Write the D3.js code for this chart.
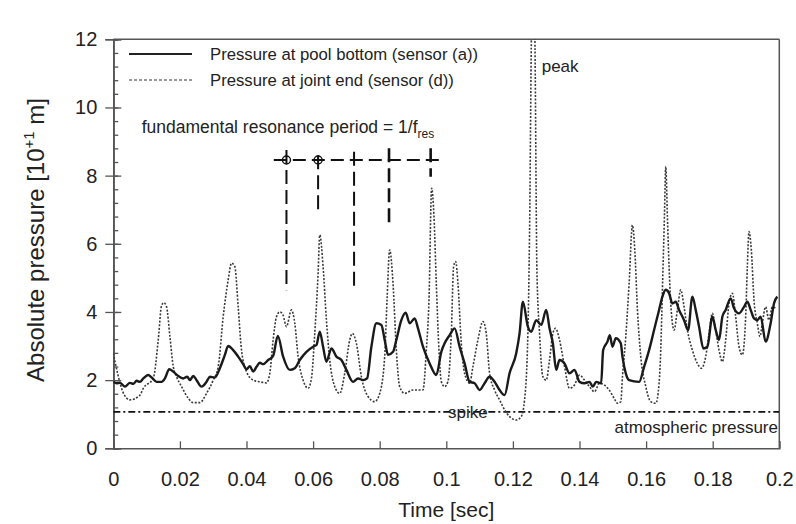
<!DOCTYPE html>
<html><head><meta charset="utf-8">
<script src="https://cdn.jsdelivr.net/npm/d3@7"></script>
<style>
html,body{margin:0;padding:0;background:#fff;}
text{font-family:"Liberation Sans",Arial,sans-serif;fill:#222;}
</style></head>
<body><svg id="chart" width="796" height="524"></svg>
<script>
// ---- data ----
const xTicks = [0,0.02,0.04,0.06,0.08,0.1,0.12,0.14,0.16,0.18,0.2];
const xTickLabels = ["0","0.02","0.04","0.06","0.08","0.1","0.12","0.14","0.16","0.18","0.2"];
const yTicks = [0,2,4,6,8,10,12];
const yMinorTicks = d3.range(0,12.01,0.4);
const atmosphericPressure = 1.07;

const timeA = [
0,0.001,0.002,0.0035,0.005,0.006,0.007,0.008,0.009,0.0105,
0.0115,0.013,0.0145,0.0155,0.0168,0.018,0.0195,0.021,0.0222,0.023,
0.024,0.025,0.0265,0.028,0.029,0.0305,0.032,0.0335,0.0345,0.036,
0.0375,0.039,0.04,0.041,0.042,0.043,0.044,0.045,0.0465,0.048,
0.0494,0.051,0.053,0.0545,0.056,0.058,0.06,0.061,0.062,0.063,
0.064,0.0655,0.067,0.0685,0.07,0.072,0.0735,0.075,0.0762,0.0775,
0.079,0.0805,0.0815,0.0825,0.084,0.085,0.0865,0.0878,0.089,0.0905,
0.0915,0.093,0.095,0.097,0.0985,0.0995,0.101,0.1025,0.104,0.1055,
0.107,0.1085,0.11,0.1115,0.113,0.1145,0.116,0.1175,0.119,0.121,
0.122,0.123,0.1245,0.1255,0.127,0.1285,0.13,0.131,0.132,0.133,
0.134,0.1355,0.137,0.1385,0.14,0.1415,0.143,0.144,0.145,0.1465,
0.1471,0.1484,0.1491,0.1499,0.1509,0.1524,0.1529,0.1539,0.1549,0.1579,
0.1594,0.1609,0.1624,0.1639,0.1649,0.1659,0.1669,0.1679,0.1689,0.1699,
0.1714,0.1726,0.1739,0.1749,0.1759,0.1772,0.1784,0.1799,0.1809,0.1819,
0.1829,0.1839,0.1854,0.1864,0.1879,0.1894,0.1904,0.1914,0.1924,0.1934,
0.1944,0.1959,0.1974,0.1984,0.1994];
const pressureA = [
1.95,1.91,1.92,1.81,1.92,1.89,1.98,1.95,2.05,2.15,
2.08,1.95,1.95,2.05,2.32,2.25,2.12,2.05,2.10,2.00,
2.12,2.00,1.81,1.95,2.10,2.08,2.35,2.74,3.00,2.88,
2.69,2.47,2.32,2.41,2.25,2.39,2.51,2.47,2.59,2.71,
3.30,2.69,2.30,2.35,2.59,2.83,2.98,3.03,3.42,2.98,
2.54,2.93,2.69,2.59,2.30,1.95,2.05,2.00,2.05,2.98,
3.67,3.62,3.18,2.74,2.83,3.18,3.76,3.98,3.67,3.81,
3.52,2.98,2.49,2.15,2.83,3.08,3.32,3.52,2.98,2.49,
1.95,1.91,1.71,1.91,2.10,1.95,1.71,1.56,2.20,2.79,
3.37,4.30,3.57,3.42,3.76,3.62,4.06,3.52,3.08,2.30,
2.59,2.49,2.20,2.30,1.95,1.91,1.95,1.81,1.95,1.91,
2.88,3.13,3.32,2.98,3.23,3.08,2.69,2.20,2.00,1.95,
2.39,2.88,3.47,4.06,4.45,4.65,4.55,4.25,4.30,4.06,
3.76,3.47,4.45,4.06,3.57,2.93,2.98,3.86,3.47,3.18,
3.86,4.06,4.40,4.11,3.96,4.15,4.30,4.06,3.81,3.76,
3.86,3.13,3.67,4.25,4.45];

const timeD = [
0,0.0014,0.0029,0.005,0.008,0.009,0.012,0.0135,0.0145,0.0152,
0.016,0.017,0.018,0.019,0.0205,0.0225,0.024,0.026,0.028,0.030,
0.0315,0.033,0.0345,0.0355,0.0365,0.0375,0.0385,0.040,0.042,0.044,
0.046,0.047,0.048,0.049,0.050,0.051,0.052,0.0535,0.0545,0.0555,
0.057,0.0585,0.0595,0.0605,0.0615,0.062,0.063,0.064,0.065,0.0665,
0.068,0.0695,0.071,0.0718,0.073,0.0745,0.0765,0.0785,0.080,0.0815,
0.0822,0.083,0.084,0.085,0.086,0.0875,0.090,0.093,0.094,0.0948,
0.0956,0.0963,0.097,0.0978,0.0985,0.0995,0.1005,0.1015,0.1022,0.1028,
0.1035,0.1045,0.1055,0.107,0.108,0.1095,0.111,0.112,0.113,0.1145,
0.116,0.1175,0.119,0.121,0.1225,0.1235,0.1245,0.125,0.1257,0.1265,
0.1272,0.128,0.129,0.130,0.131,0.132,0.1328,0.134,0.1355,0.137,
0.1385,0.140,0.1415,0.143,0.1445,0.146,0.1474,0.1489,0.1504,0.1514,
0.1524,0.1529,0.1539,0.1549,0.1559,0.1566,0.1574,0.1584,0.1599,0.1614,
0.1629,0.1639,0.1644,0.1649,0.1655,0.1659,0.1664,0.1669,0.1674,0.1684,
0.1694,0.1704,0.1714,0.1724,0.1739,0.1754,0.1766,0.1779,0.1789,0.1799,
0.1809,0.1819,0.1829,0.1839,0.1849,0.1859,0.1869,0.1879,0.1889,0.1899,
0.1904,0.1909,0.1916,0.1924,0.1934,0.1942,0.1949,0.1959,0.1969,0.1979,
0.199];
const pressureD = [
2.79,2.15,1.65,1.42,1.56,1.76,2.05,3.18,4.19,4.27,
4.15,3.28,2.40,2.10,1.81,1.47,1.34,1.34,1.61,2.00,
2.39,3.86,4.94,5.43,5.33,4.15,2.88,2.25,2.00,1.95,
1.92,2.20,3.18,3.86,4.00,3.90,3.57,4.06,3.67,2.69,
2.00,1.76,2.05,3.37,5.13,6.26,5.33,3.76,2.59,1.81,
1.61,2.20,3.18,3.37,3.08,2.10,1.52,1.37,1.61,2.69,
4.35,5.82,4.84,2.88,1.81,1.61,1.71,1.71,2.88,4.35,
7.63,6.80,4.84,2.88,1.96,1.81,1.96,3.37,5.33,5.48,
4.84,3.08,2.20,1.91,2.40,3.18,3.72,3.37,2.20,1.71,
1.42,1.13,0.93,0.83,0.93,1.42,3.37,6.30,12.6,12.4,
5.28,3.37,2.10,2.00,2.59,3.37,3.52,3.18,2.40,1.76,
1.86,2.15,2.00,1.81,1.66,1.91,1.86,1.71,1.47,1.32,
1.37,2.10,3.28,4.84,6.55,5.82,4.06,2.69,1.81,1.37,
1.32,1.91,2.88,4.65,6.79,8.27,6.79,5.33,4.25,3.47,
4.06,4.65,4.15,3.47,2.88,2.49,2.35,2.69,3.37,3.96,
3.47,2.88,2.54,3.18,4.25,4.55,3.86,2.98,2.74,3.86,
5.33,6.36,5.82,4.35,3.67,3.28,3.67,4.15,3.76,4.15,
4.10];

// resonance-period annotation
const periodMarks = [0.052,0.0615,0.0723,0.0828,0.0953];
const periodTops = [8.75,8.6,8.7,8.8,8.8];
const periodBottoms = [4.64,6.94,4.70,6.46,7.97];
const periodCircled = [true,true,false,false,false];
const periodLevel = 8.46;
const periodSpan = [0.0482,0.0989];

// ---- layout ----
const svg = d3.select("#chart");
const L = 113.3, R = 779.3, T = 39.3, B = 448.3;
const x = d3.scaleLinear().domain([0,0.2]).range([L,R]);
const y = d3.scaleLinear().domain([0,12]).range([B,T]);

svg.append("rect").attr("width",796).attr("height",524).attr("fill","#fff");
svg.append("defs").append("clipPath").attr("id","plotclip")
  .append("rect").attr("x",L).attr("y",T).attr("width",R-L).attr("height",B-T);

const axisColor = "#555";

// frame (top, right)
svg.append("line").attr("x1",L).attr("x2",R).attr("y1",T).attr("y2",T).attr("stroke",axisColor).attr("stroke-width",1.5);
svg.append("line").attr("x1",R).attr("x2",R).attr("y1",T).attr("y2",B).attr("stroke",axisColor).attr("stroke-width",1.5);

// y minor ticks (inward)
const yMinor = svg.append("g").attr("transform",`translate(${L},0)`)
  .call(d3.axisLeft(y).tickValues(yMinorTicks).tickSize(-5).tickFormat(""));
// y major ticks inward
const yMajIn = svg.append("g").attr("transform",`translate(${L},0)`)
  .call(d3.axisLeft(y).tickValues(yTicks).tickSize(-8).tickFormat(""));
// y major outward with labels
const yAxis = svg.append("g").attr("transform",`translate(${L},0)`)
  .call(d3.axisLeft(y).tickValues(yTicks).tickSize(8).tickPadding(8).tickFormat(d3.format("d")));
[yMinor,yMajIn,yAxis].forEach(g=>{
  g.selectAll("path").attr("stroke",axisColor).attr("stroke-width",1.5);
  g.selectAll("line").attr("stroke",axisColor).attr("stroke-width",1.3);
});
yAxis.selectAll("text").attr("font-size",20).attr("fill","#222")
  .style("font-family","'Liberation Sans',Arial,sans-serif");

// x axis
const xAxis = svg.append("g").attr("transform",`translate(0,${B})`)
  .call(d3.axisBottom(x).tickValues(xTicks).tickSize(-7).tickPadding(24)
    .tickFormat((d,i)=>xTickLabels[i]));
xAxis.selectAll("path").attr("stroke",axisColor).attr("stroke-width",1.5);
xAxis.selectAll("line").attr("stroke",axisColor).attr("stroke-width",1.3);
xAxis.selectAll("text").attr("font-size",20).attr("fill","#222")
  .style("font-family","'Liberation Sans',Arial,sans-serif");

// axis titles
svg.append("text").attr("x",(L+R)/2).attr("y",517).attr("text-anchor","middle")
  .attr("font-size",21).text("Time [sec]");
const yt = svg.append("text").attr("transform","translate(44,240) rotate(-90)")
  .attr("text-anchor","middle").attr("font-size",24);
yt.append("tspan").text("Absolute pressure [10");
yt.append("tspan").attr("font-size",15).attr("dy",-10).text("+1");
yt.append("tspan").attr("dy",10).text(" m]");

const plot = svg.append("g").attr("clip-path","url(#plotclip)");

// atmospheric pressure line
plot.append("line").attr("x1",x(0)).attr("x2",x(0.2))
  .attr("y1",y(atmosphericPressure)).attr("y2",y(atmosphericPressure))
  .attr("stroke","#111").attr("stroke-width",1.8).attr("stroke-dasharray","7,3,2,3");

const lineGen = d3.line().curve(d3.curveMonotoneX);

// sensor (d) dotted
const ptsD = timeD.map((t,i)=>[x(t),y(pressureD[i])]);
plot.append("path").attr("d",lineGen(ptsD)).attr("fill","none")
  .attr("stroke","#3a3a3a").attr("stroke-width",1.6).attr("stroke-dasharray","2,1.6");

// sensor (a) solid
const ptsA = timeA.map((t,i)=>[x(t),y(pressureA[i])]);
plot.append("path").attr("d",lineGen(ptsA)).attr("fill","none")
  .attr("stroke","#1a1a1a").attr("stroke-width",2.4).attr("stroke-linejoin","round");

// resonance period annotation
const ann = svg.append("g");
ann.append("line").attr("x1",x(periodSpan[0])).attr("x2",x(periodSpan[1]))
  .attr("y1",y(periodLevel)).attr("y2",y(periodLevel))
  .attr("stroke","#111").attr("stroke-width",2).attr("stroke-dasharray","13,6");
periodMarks.forEach((t,i)=>{
  ann.append("line").attr("x1",x(t)).attr("x2",x(t))
    .attr("y1",y(periodTops[i])).attr("y2",y(periodBottoms[i]))
    .attr("stroke","#111").attr("stroke-width",i>=3?2.6:2).attr("stroke-dasharray","14,6");
  if(periodCircled[i]){
    ann.append("circle").attr("cx",x(t)).attr("cy",y(periodLevel)).attr("r",4)
      .attr("fill","none").attr("stroke","#111").attr("stroke-width",1.4);
  }
});
const ft = svg.append("text").attr("x",141.7).attr("y",133).attr("font-size",17.5);
ft.append("tspan").text("fundamental resonance period = 1/f");
ft.append("tspan").attr("font-size",12).attr("dy",5).text("res");

// annotations
svg.append("text").attr("x",541.7).attr("y",72).attr("font-size",17).text("peak");
svg.append("text").attr("x",448).attr("y",418).attr("font-size",17).text("spike");
svg.append("text").attr("x",778).attr("y",433).attr("font-size",17).attr("text-anchor","end").text("atmospheric pressure");

// legend
const lg = svg.append("g");
lg.append("line").attr("x1",129).attr("x2",192).attr("y1",54).attr("y2",54)
  .attr("stroke","#222").attr("stroke-width",2);
lg.append("line").attr("x1",129).attr("x2",192).attr("y1",80).attr("y2",80)
  .attr("stroke","#333").attr("stroke-width",1.2).attr("stroke-dasharray","3,2");
lg.append("text").attr("x",210).attr("y",60).attr("font-size",16.7).text("Pressure at pool bottom (sensor (a))");
lg.append("text").attr("x",210).attr("y",86).attr("font-size",16.7).text("Pressure at joint end (sensor (d))");
</script></body></html>
